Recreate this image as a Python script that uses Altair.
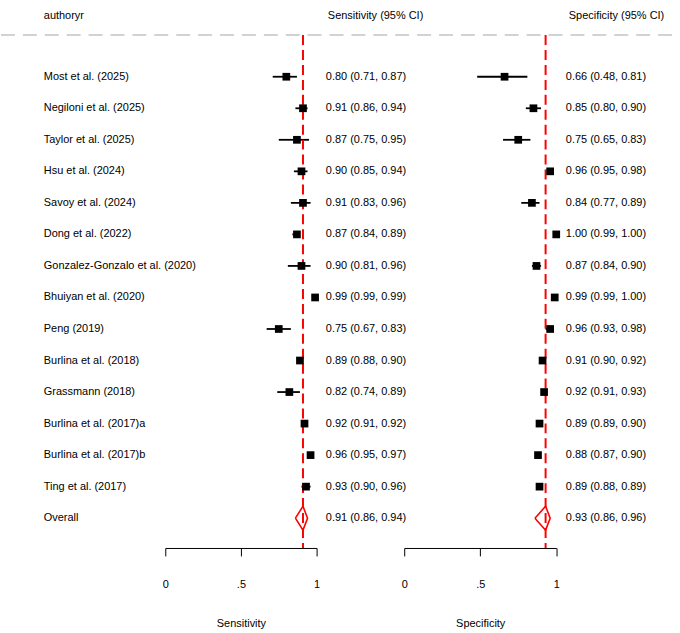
import altair as alt
import pandas as pd

# Study labels, top to bottom
studies = [
    "Most et al. (2025)", "Negiloni et al. (2025)", "Taylor et al. (2025)",
    "Hsu et al. (2024)", "Savoy et al. (2024)", "Dong et al. (2022)",
    "Gonzalez-Gonzalo et al. (2020)", "Bhuiyan et al. (2020)", "Peng (2019)",
    "Burlina et al. (2018)", "Grassmann (2018)", "Burlina et al. (2017)a",
    "Burlina et al. (2017)b", "Ting et al. (2017)",
]

# Sensitivity: estimate and 95% CI
sens = [0.80, 0.91, 0.87, 0.90, 0.91, 0.87, 0.90, 0.99, 0.75, 0.89, 0.82, 0.92, 0.96, 0.93]
sens_lo = [0.71, 0.86, 0.75, 0.85, 0.83, 0.84, 0.81, 0.99, 0.67, 0.88, 0.74, 0.91, 0.95, 0.90]
sens_hi = [0.87, 0.94, 0.95, 0.94, 0.96, 0.89, 0.96, 0.99, 0.83, 0.90, 0.89, 0.92, 0.97, 0.96]

# Specificity: estimate and 95% CI
spec = [0.66, 0.85, 0.75, 0.96, 0.84, 1.00, 0.87, 0.99, 0.96, 0.91, 0.92, 0.89, 0.88, 0.89]
spec_lo = [0.48, 0.80, 0.65, 0.95, 0.77, 0.99, 0.84, 0.99, 0.93, 0.90, 0.91, 0.89, 0.87, 0.88]
spec_hi = [0.81, 0.90, 0.83, 0.98, 0.89, 1.00, 0.90, 1.00, 0.98, 0.92, 0.93, 0.90, 0.90, 0.89]

# Pooled estimates (estimate, lower, upper)
pooled_sens = [0.91, 0.86, 0.94]
pooled_spec = [0.93, 0.86, 0.96]

FONT = "Liberation Sans"
FS = 11
H = 549
ROW_TOP, ROW_BOTTOM = -2.39, 14.945
HEADER_ROW = -1.92
RULE_ROW = -1.32
DIAMOND_HALF = 0.38

n = len(studies)
overall_row = n


def fmt(e, lo, hi):
    return f"{e:.2f} ({lo:.2f}, {hi:.2f})"


studies_df = pd.DataFrame({
    "study": studies,
    "row": list(range(n)),
    "sens": sens, "sens_lo": sens_lo, "sens_hi": sens_hi,
    "spec": spec, "spec_lo": spec_lo, "spec_hi": spec_hi,
})

labels_df = pd.DataFrame({
    "study": studies + ["Overall"],
    "row": list(range(n + 1)),
    "sens_txt": [fmt(*t) for t in zip(sens, sens_lo, sens_hi)] + [fmt(*pooled_sens)],
    "spec_txt": [fmt(*t) for t in zip(spec, spec_lo, spec_hi)] + [fmt(*pooled_spec)],
})


def diamond(p):
    est, lo, hi = p
    return pd.DataFrame({
        "x": [lo, est, hi, est, lo],
        "row": [overall_row, overall_row - DIAMOND_HALF, overall_row,
                overall_row + DIAMOND_HALF, overall_row],
        "k": [0, 1, 2, 3, 4],
    })


yscale = alt.Scale(domain=[ROW_TOP, ROW_BOTTOM], reverse=True, nice=False, zero=False)


def Y(field="row"):
    return alt.Y(f"{field}:Q", scale=yscale, axis=None)


def X(field, title):
    return alt.X(
        f"{field}:Q",
        scale=alt.Scale(domain=[0, 1], nice=False, zero=False),
        title=title,
        axis=alt.Axis(
            values=[0, 0.5, 1],
            labelExpr="datum.value == 0 ? '0' : datum.value == 1 ? '1' : '.5'",
            grid=False, domainColor="black", domainWidth=1,
            tickColor="black", tickWidth=1, tickSize=8,
            labelFlush=False, labelOverlap=False,
            labelFont=FONT, labelFontSize=FS, labelColor="black", labelPadding=23,
            titleFont=FONT, titleFontSize=FS, titleFontWeight="normal",
            titleColor="black", titlePadding=28,
        ),
    )


def forest_panel(est, lo, hi, pooled, title, width):
    ci = alt.Chart(studies_df).mark_rule(color="black", strokeWidth=1.8).encode(
        x=X(lo, title), x2=f"{hi}:Q", y=Y()
    )
    boxes = alt.Chart(studies_df).mark_square(size=60, color="black", opacity=1).encode(
        x=X(est, title), y=Y()
    )
    ref = alt.Chart(pd.DataFrame({"x": [pooled[0]], "top": [RULE_ROW], "bottom": [ROW_BOTTOM]})).mark_rule(
        color="#ff0000", strokeWidth=2, strokeDash=[10, 5]
    ).encode(x=X("x", title), y=Y("top"), y2="bottom:Q")
    dia = alt.Chart(diamond(pooled)).mark_line(color="#ff0000", strokeWidth=1.6).encode(
        x=X("x", title), y=Y(), order="k:Q"
    )
    return alt.layer(ci, ref, boxes, dia).properties(width=width, height=H)


def text_panel(field, header, width, x_text, x_header, left_rule=False):
    txt = alt.Chart(labels_df).mark_text(
        align="left", baseline="middle", font=FONT, fontSize=FS, color="black"
    ).encode(x=alt.value(x_text), y=Y(), text=f"{field}:N")
    head = alt.Chart(pd.DataFrame({"row": [HEADER_ROW], "t": [header]})).mark_text(
        align="left", baseline="middle", font=FONT, fontSize=FS, color="black"
    ).encode(x=alt.value(x_header), y=Y(), text="t:N")
    layers = [txt, head]
    if left_rule:
        dashed = alt.Chart(pd.DataFrame({"row": [RULE_ROW]})).mark_rule(
            color="#c4c4c4", strokeWidth=1.5, strokeDash=[14, 8]
        ).encode(x=alt.value(0), x2=alt.value(680), y=Y())
        layers = [dashed] + layers
    return alt.layer(*layers).properties(width=width, height=H)


names = text_panel("study", "authoryr", 164.7, 43, 43, left_rule=True)
sens_plot = forest_panel("sens", "sens_lo", "sens_hi", pooled_sens, "Sensitivity", 152)
sens_text = text_panel("sens_txt", "Sensitivity (95% CI)", 87.3, 9.3, 11.3)
spec_plot = forest_panel("spec", "spec_lo", "spec_hi", pooled_spec, "Specificity", 152.7)
spec_text = text_panel("spec_txt", "Specificity (95% CI)", 123.3, 9.3, 12.3)

chart = alt.hconcat(
    names, sens_plot, sens_text, spec_plot, spec_text, spacing=0, bounds="flush"
).resolve_scale(x="independent").properties(
    padding=0, background="white"
).configure_view(stroke=None)

chart.save("out.html", embed_options={"renderer": "svg", "actions": False})
